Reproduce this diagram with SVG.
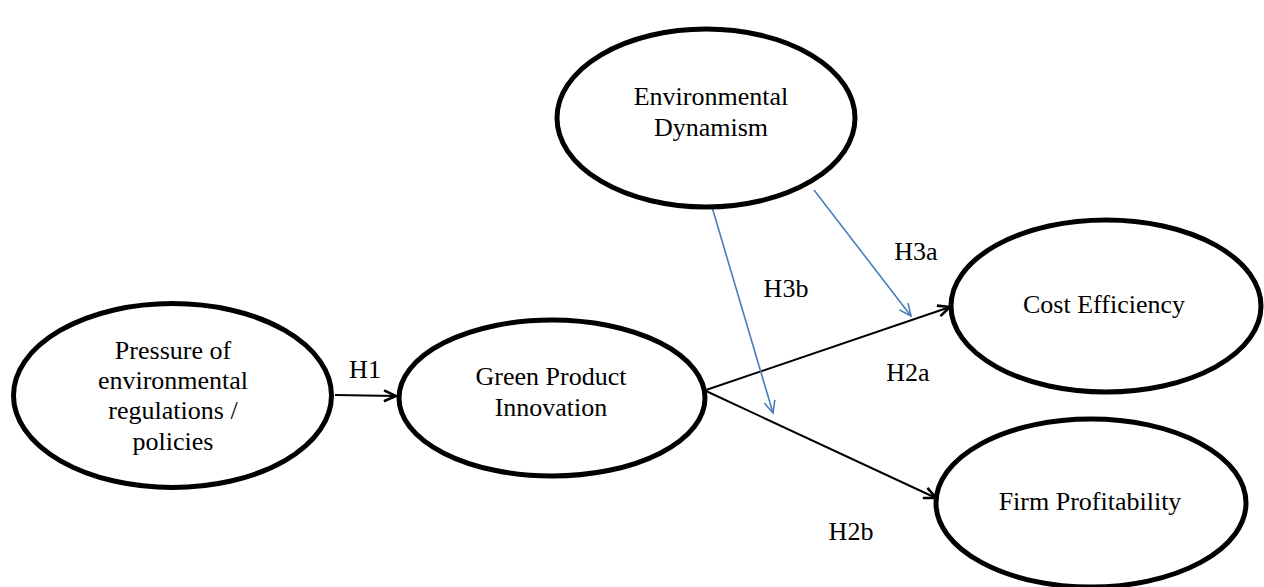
<svg xmlns="http://www.w3.org/2000/svg" width="1264" height="587" viewBox="0 0 1264 587">
<style>
.node ellipse{fill:#fff;stroke:#000;stroke-width:5}
text{font-family:"Liberation Serif","Times New Roman",serif;font-size:26px;fill:#000;text-anchor:middle}
.blk{stroke:#000;stroke-width:2;fill:none}
.blu{stroke:#4a7ebb;stroke-width:1.6;fill:none}
</style>
<defs>
<marker id="ab" markerUnits="userSpaceOnUse" markerWidth="16" markerHeight="14" refX="13" refY="6" orient="auto" viewBox="0 0 16 12">
<path d="M1,0.5 L13,6 L1,11.5" fill="none" stroke="#000" stroke-width="2.6" stroke-linejoin="miter"/>
</marker>
<marker id="au" markerUnits="userSpaceOnUse" markerWidth="16" markerHeight="14" refX="13" refY="6" orient="auto" viewBox="0 0 16 12">
<path d="M1,0.5 L13,6 L1,11.5" fill="none" stroke="#4a7ebb" stroke-width="1.6"/>
</marker>
</defs>
<rect width="1264" height="587" fill="#fff"/>
<g id="connectors">
<line class="blk" x1="335" y1="395" x2="396" y2="396" marker-end="url(#ab)"/>
<line class="blk" x1="706" y1="390" x2="950" y2="307" marker-end="url(#ab)"/>
<line class="blk" x1="706" y1="391" x2="936" y2="498" marker-end="url(#ab)"/>
<line class="blu" x1="814" y1="190" x2="911" y2="316" marker-end="url(#au)"/>
<line class="blu" x1="712" y1="207" x2="773" y2="413" marker-end="url(#au)"/>
<text x="365" y="378">H1</text>
<text x="916" y="260">H3a</text>
<text x="786" y="297">H3b</text>
<text x="908" y="381">H2a</text>
<text x="851" y="540">H2b</text>
</g>
<g id="pressure" class="node">
<ellipse cx="172.5" cy="395.5" rx="159" ry="92"/>
<text x="173" y="359">Pressure of</text>
<text x="173" y="389">environmental</text>
<text x="173" y="419">regulations /</text>
<text x="173" y="450">policies</text>
</g>
<g id="gpi" class="node">
<ellipse cx="552" cy="398" rx="153" ry="78"/>
<text x="551" y="385">Green Product</text>
<text x="551" y="416">Innovation</text>
</g>
<g id="envdyn" class="node">
<ellipse cx="706" cy="118" rx="149" ry="89"/>
<text x="711" y="105">Environmental</text>
<text x="711" y="136">Dynamism</text>
</g>
<g id="cost" class="node">
<ellipse cx="1106" cy="306" rx="155" ry="86"/>
<text x="1104" y="313">Cost Efficiency</text>
</g>
<g id="profit" class="node">
<ellipse cx="1091" cy="503" rx="155" ry="84"/>
<text x="1090" y="510">Firm Profitability</text>
</g>
</svg>
